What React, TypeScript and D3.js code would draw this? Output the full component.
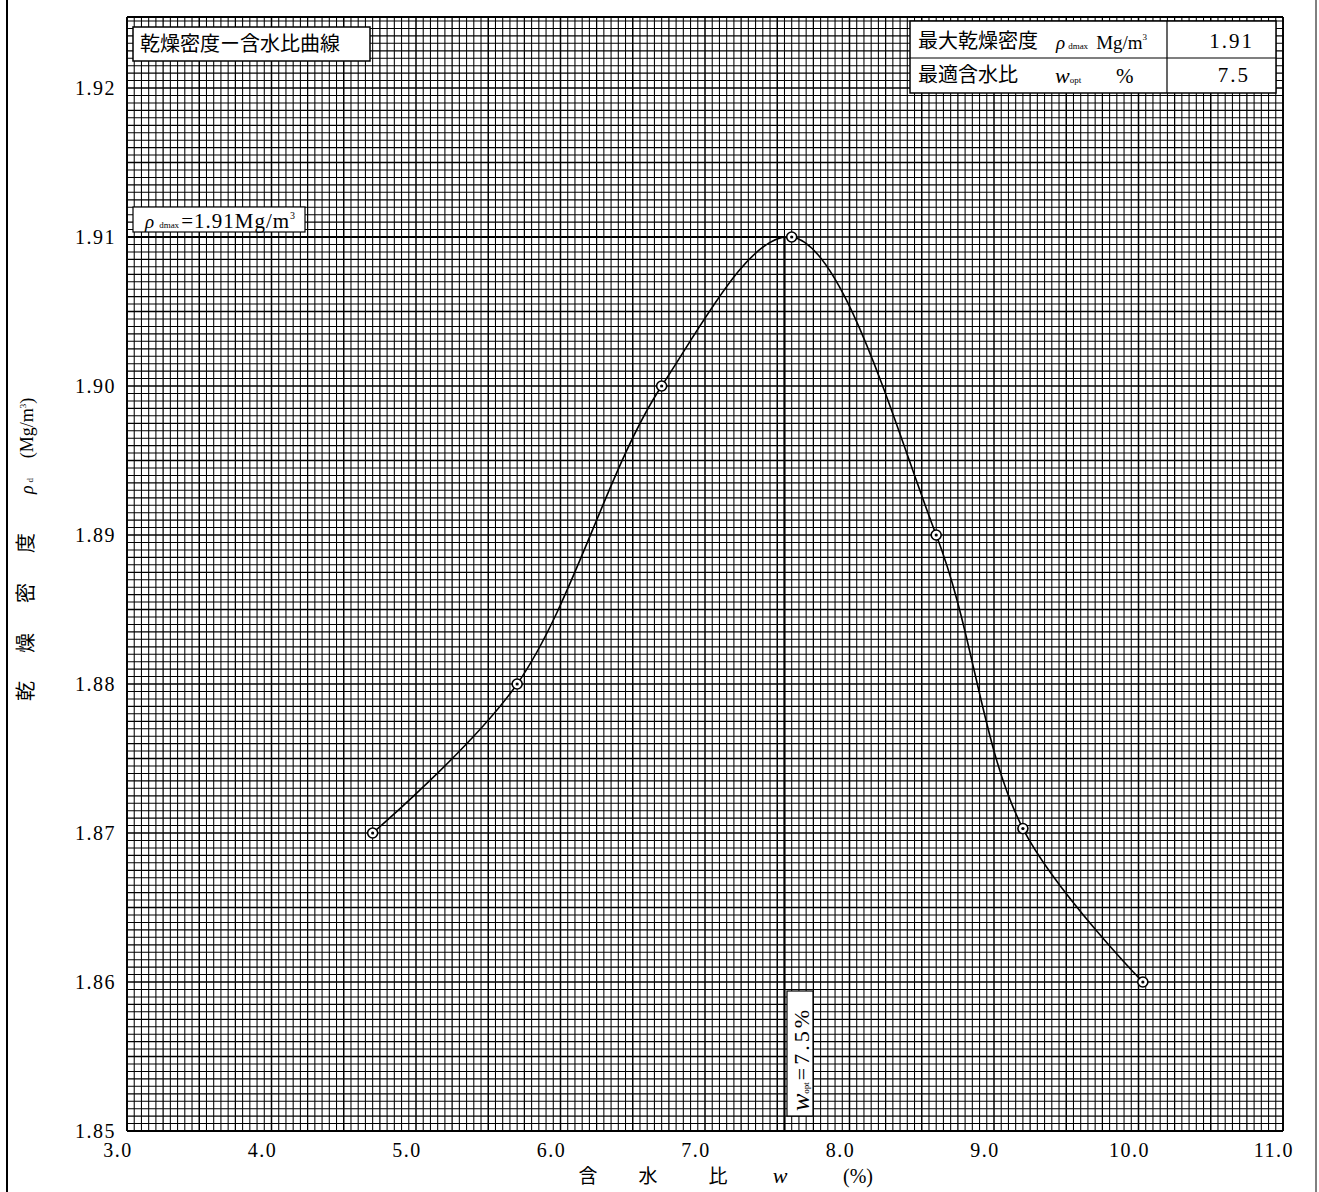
import React from "react";
import * as d3 from "d3";

// 含水比 w (%) と 乾燥密度 ρd (Mg/m3) の測定値
const moisture = [4.7, 5.7, 6.7, 7.6, 8.6, 9.2, 10.03];
const density = [1.87, 1.88, 1.9, 1.91, 1.89, 1.8703, 1.86];

const xTicks = [3, 4, 5, 6, 7, 8, 9, 10, 11];
const yTicks = [1.85, 1.86, 1.87, 1.88, 1.89, 1.9, 1.91, 1.92];

const rhoDmax = 1.91;
const wOptLine = 7.55;
const tableValues = ["1.91", "7.5"];

const W = 1319;
const H = 1192;
const left = 127;
const right = 1283;
const top = 17;
const bottom = 1131;

const numFont = "'Liberation Serif', 'DejaVu Serif', serif";
const jpFont = "'Noto Sans CJK JP', sans-serif";

export default function App() {
  const x = d3.scaleLinear().domain([3, 11]).range([left, right]);
  const y = d3.scaleLinear().domain([1.85, 1.92]).range([bottom, 88]);
  const yTop = y.invert(top);

  // graph paper: 20 cells per 1.0 (x), 20 cells per 0.01 (y)
  const xGrid = d3.range(0, 161).map((i) => ({ v: 3 + i * 0.05, i }));
  const nY = Math.floor((yTop - 1.85) / 0.0005 + 1e-6);
  const yGrid = d3.range(0, nY + 1).map((i) => ({ v: 1.85 + i * 0.0005, i }));
  const gw = (i: number) => (i % 10 === 0 ? 1.5 : i % 5 === 0 ? 1.25 : 1.05);

  const pts = moisture.map((m, i) => [m, density[i]] as [number, number]);
  const line = d3
    .line<[number, number]>()
    .x((d) => x(d[0]))
    .y((d) => y(d[1]))
    .curve(d3.curveCatmullRom.alpha(0.5));

  const fmtY = d3.format(".2f");
  const fmtX = d3.format(".1f");

  return (
    <svg
      width={W}
      height={H}
      style={{ position: "absolute", left: 0, top: 0, background: "#fff" }}
    >
      <rect x={0} y={0} width={W} height={H} fill="#fff" />
      <line x1={7} x2={7} y1={0} y2={H} stroke="#000" strokeWidth={2} />
      <line x1={1316} x2={1316} y1={0} y2={H} stroke="#000" strokeWidth={1} />

      {/* grid */}
      <g stroke="#000">
        {xGrid.map((g) => (
          <line
            key={"gx" + g.i}
            x1={x(g.v)}
            x2={x(g.v)}
            y1={top}
            y2={bottom}
            strokeWidth={gw(g.i)}
          />
        ))}
        {yGrid.map((g) => (
          <line
            key={"gy" + g.i}
            x1={left}
            x2={right}
            y1={y(g.v)}
            y2={y(g.v)}
            strokeWidth={gw(g.i)}
          />
        ))}
        <line x1={left} x2={left} y1={top} y2={bottom} strokeWidth={1.8} />
        <line x1={right} x2={right} y1={top} y2={bottom} strokeWidth={1.8} />
        <line x1={left} x2={right} y1={top} y2={top} strokeWidth={1.8} />
        <line x1={left} x2={right} y1={bottom} y2={bottom} strokeWidth={1.8} />
      </g>

      {/* y tick labels */}
      {yTicks.map((t) => (
        <text
          key={"yt" + t}
          x={116}
          y={y(t)}
          dy="0.35em"
          textAnchor="end"
          fontFamily={numFont}
          fontSize={20}
          letterSpacing={1.5}
        >
          {fmtY(t)}
        </text>
      ))}

      {/* x tick labels */}
      {xTicks.map((t) => (
        <text
          key={"xt" + t}
          x={x(t) - 9}
          y={1157}
          textAnchor="middle"
          fontFamily={numFont}
          fontSize={20}
          letterSpacing={1.5}
        >
          {fmtX(t)}
        </text>
      ))}

      {/* x axis title */}
      <g fontSize={19}>
        <text x={588} y={1183} textAnchor="middle" fontFamily={jpFont}>含</text>
        <text x={648} y={1183} textAnchor="middle" fontFamily={jpFont}>水</text>
        <text x={718} y={1183} textAnchor="middle" fontFamily={jpFont}>比</text>
        <text x={780} y={1183} textAnchor="middle" fontFamily={numFont} fontStyle="italic" fontSize={22}>w</text>
        <text x={858} y={1183} textAnchor="middle" fontFamily={numFont} fontSize={20}>(%)</text>
      </g>

      {/* y axis title */}
      <g transform="translate(33,548) rotate(-90)" fontSize={20}>
        <text x={-143} y={0} textAnchor="middle" fontFamily={jpFont}>乾</text>
        <text x={-95} y={0} textAnchor="middle" fontFamily={jpFont}>燥</text>
        <text x={-45} y={0} textAnchor="middle" fontFamily={jpFont}>密</text>
        <text x={5} y={0} textAnchor="middle" fontFamily={jpFont}>度</text>
        <text x={62} y={0} textAnchor="middle" fontFamily={numFont}>
          <tspan fontStyle="italic" fontSize={18}>ρ</tspan>
          <tspan fontSize={9} dx={3}>d</tspan>
        </text>
        <text x={120} y={0} textAnchor="middle" fontFamily={numFont} fontSize={18}>
          (Mg/m<tspan fontSize={9} dy={-7}>3</tspan><tspan dy={7}>)</tspan>
        </text>
      </g>

      {/* reference lines */}
      <line
        x1={left}
        x2={x(wOptLine)}
        y1={y(rhoDmax)}
        y2={y(rhoDmax)}
        stroke="#000"
        strokeWidth={1.8}
      />
      <line
        x1={x(wOptLine)}
        x2={x(wOptLine)}
        y1={y(rhoDmax)}
        y2={bottom}
        stroke="#000"
        strokeWidth={2.2}
      />

      {/* curve */}
      <path d={line(pts) ?? ""} fill="none" stroke="#000" strokeWidth={1.6} />
      {pts.map((p, i) => (
        <g key={"pt" + i}>
          <circle cx={x(p[0])} cy={y(p[1])} r={5} fill="#fff" stroke="#000" strokeWidth={1.6} />
          <circle cx={x(p[0])} cy={y(p[1])} r={1.6} fill="#000" />
        </g>
      ))}

      {/* title box */}
      <rect x={133} y={27} width={237} height={34} fill="#fff" stroke="#000" strokeWidth={1.5} />
      <text x={140} y={44} dy="0.35em" fontFamily={jpFont} fontSize={20}>
        乾燥密度ー含水比曲線
      </text>

      {/* rho dmax label */}
      <rect x={133} y={207} width={172} height={25} fill="#fff" stroke="#000" strokeWidth={1.2} />
      <text x={145} y={228} fontFamily={numFont} fontSize={21}>
        <tspan fontStyle="italic" fontSize={19}>ρ</tspan>
        <tspan fontSize={9} dx={5}>dmax</tspan>
        <tspan dx={2} letterSpacing={1}>=1.91Mg/m</tspan>
        <tspan fontSize={10} dy={-9}>3</tspan>
      </text>

      {/* wopt label */}
      <rect x={787} y={991} width={26} height={125} fill="#fff" stroke="#000" strokeWidth={1.2} />
      <text transform="translate(809,1111) rotate(-90)" fontFamily={numFont} fontSize={22}>
        <tspan fontStyle="italic" fontSize={26}>w</tspan>
        <tspan fontSize={9}>opt</tspan>
        <tspan dx={2} letterSpacing={3}>=7.5%</tspan>
      </text>

      {/* result table */}
      <g>
        <rect x={910} y={21} width={366} height={72} fill="#fff" stroke="#000" strokeWidth={1.5} />
        <line x1={910} x2={1276} y1={58} y2={58} stroke="#000" strokeWidth={1.2} />
        <line x1={1167} x2={1167} y1={21} y2={93} stroke="#000" strokeWidth={1.2} />
        <text x={918} y={41} dy="0.35em" fontFamily={jpFont} fontSize={20}>最大乾燥密度</text>
        <text x={1056} y={49} fontFamily={numFont} fontSize={19}>
          <tspan fontStyle="italic">ρ</tspan>
          <tspan fontSize={9} dx={3}>dmax</tspan>
          <tspan dx={8}>Mg/m</tspan>
          <tspan fontSize={9} dy={-9}>3</tspan>
        </text>
        <text x={918} y={75} dy="0.35em" fontFamily={jpFont} fontSize={20}>最適含水比</text>
        <text x={1055} y={83} fontFamily={numFont} fontSize={22}>
          <tspan fontStyle="italic">w</tspan>
          <tspan fontSize={9}>opt</tspan>
        </text>
        <text x={1116} y={83} fontFamily={numFont} fontSize={21}>%</text>
        <text x={1254} y={48} textAnchor="end" fontFamily={numFont} fontSize={21} letterSpacing={2}>
          {tableValues[0]}
        </text>
        <text x={1250} y={82} textAnchor="end" fontFamily={numFont} fontSize={21} letterSpacing={2}>
          {tableValues[1]}
        </text>
      </g>
    </svg>
  );
}
